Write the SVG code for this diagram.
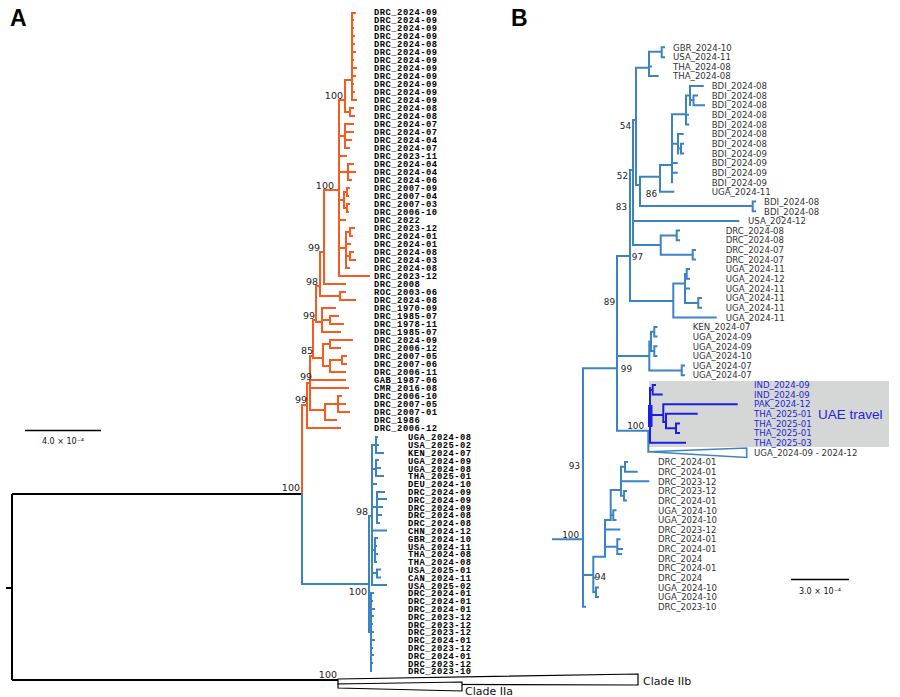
<svg xmlns="http://www.w3.org/2000/svg" width="900" height="697" viewBox="0 0 900 697">
<style>
.o{stroke:#f95b1e;fill:none;stroke-width:2;stroke-linecap:square}
.b{stroke:#3b83c5;fill:none;stroke-width:2;stroke-linecap:square}
.u{stroke:#1e1ee0;fill:none;stroke-width:2;stroke-linecap:square}
.k{stroke:#000;fill:none;stroke-width:2}
.ta{font-family:"Liberation Mono",monospace;font-weight:bold;font-size:8.8px;letter-spacing:0.5px;fill:#000}
.tb{font-family:"DejaVu Sans",sans-serif;font-size:8.6px;fill:#333}
.tu{font-family:"DejaVu Sans",sans-serif;font-size:8.6px;fill:#2424d4}
.nl{font-family:"DejaVu Sans",sans-serif;font-size:9.5px;fill:#222;text-anchor:end}
.nb{font-family:"DejaVu Sans",sans-serif;font-size:8.8px;fill:#222;text-anchor:end}
.sc{font-family:"DejaVu Sans",sans-serif;font-size:8px;fill:#111;text-anchor:middle}
.pl{font-family:"Liberation Sans",Arial,sans-serif;font-size:23px;font-weight:bold;fill:#000}
</style>
<rect width="900" height="697" fill="#fff"/>
<text class="pl" x="10" y="26">A</text>
<text class="pl" x="511" y="26">B</text>

<g id="scaleA"><path d="M25,430.5 H101" stroke="#000" stroke-width="1.5"/><text class="sc" x="63" y="444">4.0 × 10⁻⁴</text></g>
<g id="scaleB"><path d="M791,579.5 H849" stroke="#000" stroke-width="1.5"/><text class="sc" x="820" y="594">3.0 × 10⁻⁴</text></g>

<g id="connectors">
<g id="treeA-root">
<path class="k" d="M6,588 H12 M12,494 V680 M12,494 H302 M12,680 H338"/>
<polygon points="338,679 638,674 638,685 338,684" fill="#fff" stroke="#000" stroke-width="1.2"/>
<polygon points="338,684 462,682 462,691 338,688" fill="#fff" stroke="#000" stroke-width="1.2"/>
</g>
<g id="treeA-orange">
<path class="o" d="M302,494 V405 H307 M307,383 V428 M307,428 H340 M307,383 H310
M310,356 V410 M310,356 H313 M310,380 H345 M310,388 H348 M310,410 H325
M325,404 V420 M325,404 H338 M325,420 H336
M338,396 V412 M338,396 H341 M338,404 H345 M338,412 H349
M313,320 V358 M313,320 H316 M313,358 H323
M323,344 V366 M323,344 H330 M323,366 H330
M330,340 V348 M330,340 H352 M330,348 H340
M330,360 V372 M330,360 H342 M330,372 H345
M342,356 V364 M342,356 H346 M342,364 H346
M316,286 V322 M316,286 H320 M316,322 H322
M322,308 V332 M322,308 H335 M322,320 H330 M322,332 H340
M330,316 V324 M330,316 H338 M330,324 H343
M320,252 V296 M320,252 H324 M320,296 H340
M340,292 V300 M340,292 H345 M340,300 H355
M324,190 V284 M324,190 H339 M324,284 H345
M339,100 V276 M339,100 H345 M339,136 H345 M339,156 H346 M339,172 H348 M339,200 H344 M339,220 H345 M339,248 H346 M339,276 H369
M345,80 V112 M345,80 H352 M345,112 H350
M352,13 V100 M352,13 H355 M352,20 H353 M352,28 H353 M352,36 H354 M352,44 H354 M352,52 H355 M352,60 H353 M352,68 H356 M352,76 H355 M352,84 H353 M352,92 H354 M352,100 H356
M350,108 V116 M350,108 H353 M350,116 H354
M345,124 V148 M345,124 H353 M345,132 H353 M345,140 H351 M345,148 H349
M348,164 V180 M348,164 H353 M348,172 H355 M348,180 H351
M344,192 V208 M344,192 H347 M344,208 H347 M347,188 V196 M347,188 H349 M347,196 H348 M347,204 V212 M347,204 H349 M347,212 H348
M346,232 V268 M346,232 H350 M346,244 H350 M346,256 H350 M346,268 H349 M350,228 V236 M350,228 H354 M350,236 H352 M350,252 V260 M350,252 H353 M350,260 H355"/>
</g>
<g id="treeA-blue">
<path class="b" d="M302,494 V584 H369 M369,516 V632 M369,516 H372 M369,632 H371
M372,445 V585 M372,445 H376 M372,469 H376 M372,484 H376 M372,507 H377 M372,530.6 H386 M372,550 H375 M372,573 H377 M372,585 H386
M376,437 V453 M376,437 H377 M376,445 H378 M376,453 H383
M376,460 V476 M376,460 H378 M376,468 H380 M376,476 H383
M377,492 V523 M377,492 H384 M377,499 H386 M377,507 H382 M377,515 H381 M377,523 H379
M375,538 V562 M375,538 H377 M375,546 H376 M375,554 H377 M375,562 H376
M377,569.6 V577.4 M377,569.6 H380 M377,577.4 H380
M371,593 V671 M371,593 H373 M371,601 H372 M371,609 H374 M371,616 H373 M371,624 H372 M371,632 H373 M371,640 H374 M371,648 H372 M371,655 H373 M371,663 H372"/>
</g>
<g id="treeB">
<rect x="649" y="381" width="240" height="66" fill="#d5d7d7"/>
<path class="b" d="M636,67.7 H649 M649,51.7 V76 M649,51.7 H661.7 M661.7,47.3 V57.3 M661.7,47.3 H664 M661.7,57.3 H664 M649,66.6 H651 M649,76 H657.7
M636,67.7 V185 M636,185 H640
M640,176.7 V206 M640,176.7 H660 M640,206 H752.7 M752.7,201.6 V211.3 M752.7,201.6 H755 M752.7,211.3 H755
M660,165 V191.7 M660,165 H672 M660,191.7 H673.3
M672,114.3 V182.3 M672,114.3 H686 M672,143.8 H678 M672,163 H676.7 M672,172.7 H676.7
M678,134.1 V153.4 M678,134.1 H682.7 M678,148.6 H681 M681,143.8 V153.4 M681,143.8 H683 M681,153.4 H683
M686,95.5 V124.5 M686,95.5 H690 M686,114.8 H688 M686,124.5 H688.3
M690,86 V105 M690,86 H702.7 M690,100 H693.5 M693.5,95.5 V105.2 M693.5,95.5 H697 M693.5,105.2 H704
M633,120 V245 M633,120 H636 M633,220.9 H738.3 M633,245 H660.7
M660.7,235.4 V254.8 M660.7,235.4 H676.7 M676.7,230.6 V240.2 M676.7,230.6 H679 M676.7,240.2 H679 M660.7,254.8 H692.7 M692.7,249.9 V259.5 M692.7,249.9 H695 M692.7,259.5 H695
M630,170 V301 M630,170 H633 M630,301 H673.3
M673.3,283.5 V317.4 M673.3,283.5 H685 M673.3,317.4 H715.7
M685,274 V303 M685,274 H686.7 M686.7,269.1 V278.8 M686.7,269.1 H689 M686.7,278.8 H689 M685,288.4 H689 M685,303 H698.3 M698.3,298.1 V307.7 M698.3,298.1 H701 M698.3,307.7 H701
M617,256 V430.7 M617,256 H630 M617,356 H649.3 M617,430.7 H648.3 M583,368.3 H617
M649.3,341.5 V370.4 M649.3,341.5 H651 M651,331.8 V351 M651,331.8 H654.3 M651,351 H654.3 M654.3,327 V336.6 M654.3,327 H656.5 M654.3,336.6 H656.5 M654.3,346.3 V355.9 M654.3,346.3 H656.5 M654.3,355.9 H656.5 M649.3,370.4 H681.7 M681.7,365.6 V375.2 M681.7,365.6 H684 M681.7,375.2 H684
M648.3,430.7 V451.7
M553,539.3 H583 M583,368.3 V606.7 M583,575 H593.3 M583,606.7 H585
M593.3,556.7 V592 M593.3,556.7 H605 M593.3,577.8 H595 M593.3,592 H596 M596,587.4 V597.1 M596,587.4 H598 M596,597.1 H598
M605,520 V556.7 M605,520 H610.7 M605,546.7 H617.3 M605,529.6 H619.3
M610.7,490 V520 M610.7,490 H621 M610.7,515.1 H613.3 M613.3,510.3 V519.9 M613.3,510.3 H615.5 M613.3,519.9 H615.5
M621,466.8 V495.8 M621,466.8 H625 M625,462 V471.7 M625,462 H627 M625,471.7 H636.7 M621,481.3 H648.3 M621,495.8 H624 M624,491 V500.6 M624,491 H626 M624,500.6 H626
M617.3,539.2 V554 M617.3,539.2 H619.5 M617.3,548.9 H622 M617.3,554 H621"/>
<polygon points="648.3,451.7 746.7,448 746.7,457.5" fill="#fff" stroke="#3b83c5" stroke-width="1.6"/>
<path class="u" d="M650,388 V442.7 M650,390 H652.7 M652.7,384.9 V394.5 M652.7,384.9 H655 M652.7,394.5 H661.7
M650,415 H663.3 M663.3,404.2 V422 M663.3,404.2 H736.7 M663.3,422 H666 M666,413.8 V428.3 M666,413.8 H696.7 M666,428.3 H676 M676,423.5 V433.1 M676,423.5 H679 M676,433.1 H679
M650,442.7 H685"/>
<rect x="648" y="405" width="4.5" height="22" fill="#1e1ee0"/>
</g>
</g>

<g id="nodelabels">
<text class="nl" x="343" y="98.5">100</text>
<text class="nl" x="334" y="188.5">100</text>
<text class="nl" x="320" y="250.5">99</text>
<text class="nl" x="318" y="284.5">98</text>
<text class="nl" x="315" y="318.5">99</text>
<text class="nl" x="313" y="354">85</text>
<text class="nl" x="312" y="379.5">99</text>
<text class="nl" x="307" y="402.5">99</text>
<text class="nl" x="300" y="491">100</text>
<text class="nl" x="368" y="515">98</text>
<text class="nl" x="367" y="595">100</text>
<text class="nl" x="337" y="678">100</text>
<text class="nb" x="631" y="128.5">54</text>
<text class="nb" x="628" y="179">52</text>
<text class="nb" x="657" y="196.5">86</text>
<text class="nb" x="627" y="209.5">83</text>
<text class="nb" x="643" y="260">97</text>
<text class="nb" x="615" y="305">89</text>
<text class="nb" x="632" y="371.5">99</text>
<text class="nb" x="644" y="428.5">100</text>
<text class="nb" x="580" y="468.5">93</text>
<text class="nb" x="579" y="537.5">100</text>
<text class="nb" x="606" y="580">94</text>
</g>

<g id="cladeLabels" font-family="DejaVu Sans, sans-serif" font-size="11" fill="#111">
<text x="643" y="685">Clade IIb</text>
<text x="465" y="695">Clade IIa</text>
</g>

<g id="tipsA-orange">
<text class="ta" x="374" y="15.3">DRC_2024-09</text>
<text class="ta" x="374" y="23.3">DRC_2024-09</text>
<text class="ta" x="374" y="31.3">DRC_2024-09</text>
<text class="ta" x="374" y="39.3">DRC_2024-09</text>
<text class="ta" x="374" y="47.3">DRC_2024-08</text>
<text class="ta" x="374" y="55.3">DRC_2024-09</text>
<text class="ta" x="374" y="63.3">DRC_2024-09</text>
<text class="ta" x="374" y="71.3">DRC_2024-09</text>
<text class="ta" x="374" y="79.3">DRC_2024-09</text>
<text class="ta" x="374" y="87.3">DRC_2024-09</text>
<text class="ta" x="374" y="95.3">DRC_2024-09</text>
<text class="ta" x="374" y="103.3">DRC_2024-09</text>
<text class="ta" x="374" y="111.3">DRC_2024-08</text>
<text class="ta" x="374" y="119.3">DRC_2024-08</text>
<text class="ta" x="374" y="127.3">DRC_2024-07</text>
<text class="ta" x="374" y="135.3">DRC_2024-07</text>
<text class="ta" x="374" y="143.3">DRC_2024-04</text>
<text class="ta" x="374" y="151.3">DRC_2024-07</text>
<text class="ta" x="374" y="159.3">DRC_2023-11</text>
<text class="ta" x="374" y="167.3">DRC_2024-04</text>
<text class="ta" x="374" y="175.3">DRC_2024-04</text>
<text class="ta" x="374" y="183.3">DRC_2024-06</text>
<text class="ta" x="374" y="191.3">DRC_2007-09</text>
<text class="ta" x="374" y="199.3">DRC_2007-04</text>
<text class="ta" x="374" y="207.3">DRC_2007-03</text>
<text class="ta" x="374" y="215.3">DRC_2006-10</text>
<text class="ta" x="374" y="223.3">DRC_2022</text>
<text class="ta" x="374" y="231.3">DRC_2023-12</text>
<text class="ta" x="374" y="239.3">DRC_2024-01</text>
<text class="ta" x="374" y="247.3">DRC_2024-01</text>
<text class="ta" x="374" y="255.3">DRC_2024-08</text>
<text class="ta" x="374" y="263.3">DRC_2024-03</text>
<text class="ta" x="374" y="271.3">DRC_2024-08</text>
<text class="ta" x="374" y="279.3">DRC_2023-12</text>
<text class="ta" x="374" y="287.3">DRC_2008</text>
<text class="ta" x="374" y="295.3">ROC_2003-06</text>
<text class="ta" x="374" y="303.3">DRC_2024-08</text>
<text class="ta" x="374" y="311.3">DRC_1970-09</text>
<text class="ta" x="374" y="319.3">DRC_1985-07</text>
<text class="ta" x="374" y="327.3">DRC_1978-11</text>
<text class="ta" x="374" y="335.3">DRC_1985-07</text>
<text class="ta" x="374" y="343.3">DRC_2024-09</text>
<text class="ta" x="374" y="351.3">DRC_2006-12</text>
<text class="ta" x="374" y="359.3">DRC_2007-05</text>
<text class="ta" x="374" y="367.3">DRC_2007-06</text>
<text class="ta" x="374" y="375.3">DRC_2006-11</text>
<text class="ta" x="374" y="383.3">GAB_1987-06</text>
<text class="ta" x="374" y="391.3">CMR_2016-08</text>
<text class="ta" x="374" y="399.3">DRC_2006-10</text>
<text class="ta" x="374" y="407.3">DRC_2007-05</text>
<text class="ta" x="374" y="415.3">DRC_2007-01</text>
<text class="ta" x="374" y="423.3">DRC_1986</text>
<text class="ta" x="374" y="431.3">DRC_2006-12</text>
</g>

<g id="tipsA-blue">
<text class="ta" x="408" y="440.3">UGA_2024-08</text>
<text class="ta" x="408" y="448.1">USA_2025-02</text>
<text class="ta" x="408" y="455.9">KEN_2024-07</text>
<text class="ta" x="408" y="463.7">UGA_2024-09</text>
<text class="ta" x="408" y="471.5">UGA_2024-08</text>
<text class="ta" x="408" y="479.3">THA_2025-01</text>
<text class="ta" x="408" y="487.1">DEU_2024-10</text>
<text class="ta" x="408" y="494.9">DRC_2024-09</text>
<text class="ta" x="408" y="502.7">DRC_2024-09</text>
<text class="ta" x="408" y="510.5">DRC_2024-09</text>
<text class="ta" x="408" y="518.3">DRC_2024-08</text>
<text class="ta" x="408" y="526.1">DRC_2024-08</text>
<text class="ta" x="408" y="533.9">CHN_2024-12</text>
<text class="ta" x="408" y="541.7">GBR_2024-10</text>
<text class="ta" x="408" y="549.5">USA_2024-11</text>
<text class="ta" x="408" y="557.3">THA_2024-08</text>
<text class="ta" x="408" y="565.1">THA_2024-08</text>
<text class="ta" x="408" y="572.9">USA_2025-01</text>
<text class="ta" x="408" y="580.7">CAN_2024-11</text>
<text class="ta" x="408" y="588.5">USA_2025-02</text>
<text class="ta" x="408" y="596.3">DRC_2024-01</text>
<text class="ta" x="408" y="604.1">DRC_2024-01</text>
<text class="ta" x="408" y="611.9">DRC_2024-01</text>
<text class="ta" x="408" y="619.7">DRC_2023-12</text>
<text class="ta" x="408" y="627.5">DRC_2023-12</text>
<text class="ta" x="408" y="635.3">DRC_2023-12</text>
<text class="ta" x="408" y="643.1">DRC_2024-01</text>
<text class="ta" x="408" y="650.9">DRC_2023-12</text>
<text class="ta" x="408" y="658.7">DRC_2024-01</text>
<text class="ta" x="408" y="666.5">DRC_2023-12</text>
<text class="ta" x="408" y="674.3">DRC_2023-10</text>
</g>

<g id="tipsB">
<text class="tb" x="673" y="50.5">GBR_2024-10</text>
<text class="tb" x="673" y="60.1">USA_2024-11</text>
<text class="tb" x="673" y="69.8">THA_2024-08</text>
<text class="tb" x="673" y="79.4">THA_2024-08</text>
<text class="tb" x="711.7" y="89.1">BDI_2024-08</text>
<text class="tb" x="711.7" y="98.7">BDI_2024-08</text>
<text class="tb" x="711.7" y="108.4">BDI_2024-08</text>
<text class="tb" x="711.7" y="118">BDI_2024-08</text>
<text class="tb" x="711.7" y="127.7">BDI_2024-08</text>
<text class="tb" x="711.7" y="137.3">BDI_2024-08</text>
<text class="tb" x="711.7" y="147">BDI_2024-08</text>
<text class="tb" x="711.7" y="156.6">BDI_2024-09</text>
<text class="tb" x="711.7" y="166.2">BDI_2024-09</text>
<text class="tb" x="711.7" y="175.9">BDI_2024-09</text>
<text class="tb" x="711.7" y="185.5">BDI_2024-09</text>
<text class="tb" x="711.7" y="195.2">UGA_2024-11</text>
<text class="tb" x="764" y="204.8">BDI_2024-08</text>
<text class="tb" x="764" y="214.5">BDI_2024-08</text>
<text class="tb" x="748" y="224.1">USA_2024-12</text>
<text class="tb" x="725.7" y="233.8">DRC_2024-08</text>
<text class="tb" x="725.7" y="243.4">DRC_2024-08</text>
<text class="tb" x="725.7" y="253.1">DRC_2024-07</text>
<text class="tb" x="725.7" y="262.7">DRC_2024-07</text>
<text class="tb" x="725.7" y="272.3">UGA_2024-11</text>
<text class="tb" x="725.7" y="282">UGA_2024-12</text>
<text class="tb" x="725.7" y="291.6">UGA_2024-11</text>
<text class="tb" x="725.7" y="301.3">UGA_2024-11</text>
<text class="tb" x="725.7" y="310.9">UGA_2024-11</text>
<text class="tb" x="725.7" y="320.6">UGA_2024-11</text>
<text class="tb" x="692.7" y="330.2">KEN_2024-07</text>
<text class="tb" x="692.7" y="339.9">UGA_2024-09</text>
<text class="tb" x="692.7" y="349.5">UGA_2024-09</text>
<text class="tb" x="692.7" y="359.2">UGA_2024-10</text>
<text class="tb" x="692.7" y="368.8">UGA_2024-07</text>
<text class="tb" x="692.7" y="378.4">UGA_2024-07</text>
<text class="tu" x="754" y="388.1">IND_2024-09</text>
<text class="tu" x="754" y="397.7">IND_2024-09</text>
<text class="tu" x="754" y="407.4">PAK_2024-12</text>
<text class="tu" x="754" y="417">THA_2025-01</text>
<text class="tu" x="754" y="426.7">THA_2025-01</text>
<text class="tu" x="754" y="436.3">THA_2025-01</text>
<text class="tu" x="754" y="446">THA_2025-03</text>
<text class="tb" x="754" y="455.6">UGA_2024-09 - 2024-12</text>
<text class="tb" x="658" y="465.3">DRC_2024-01</text>
<text class="tb" x="658" y="474.9">DRC_2024-01</text>
<text class="tb" x="658" y="484.6">DRC_2023-12</text>
<text class="tb" x="658" y="494.2">DRC_2023-12</text>
<text class="tb" x="658" y="503.8">DRC_2024-01</text>
<text class="tb" x="658" y="513.5">UGA_2024-10</text>
<text class="tb" x="658" y="523.1">UGA_2024-10</text>
<text class="tb" x="658" y="532.8">DRC_2023-12</text>
<text class="tb" x="658" y="542.4">DRC_2024-01</text>
<text class="tb" x="658" y="552.1">DRC_2024-01</text>
<text class="tb" x="658" y="561.7">DRC_2024</text>
<text class="tb" x="658" y="571.4">DRC_2024-01</text>
<text class="tb" x="658" y="581">DRC_2024</text>
<text class="tb" x="658" y="590.7">UGA_2024-10</text>
<text class="tb" x="658" y="600.3">UGA_2024-10</text>
<text class="tb" x="658" y="610">DRC_2023-10</text>
</g>
<text x="818" y="419" font-family="Liberation Sans, Arial, sans-serif" font-size="13.5" fill="#2323d8">UAE travel</text>
</svg>
